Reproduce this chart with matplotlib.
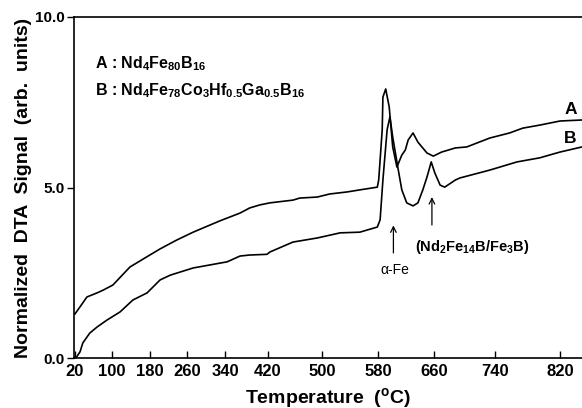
import numpy as np
import matplotlib
matplotlib.use("Agg")
import matplotlib.pyplot as plt

plt.rcParams['font.family'] = ['Liberation Sans', 'DejaVu Sans']
plt.rcParams['mathtext.fontset'] = 'custom'
plt.rcParams['mathtext.rm'] = 'Liberation Sans:bold'
plt.rcParams['mathtext.bf'] = 'Liberation Sans:bold'
plt.rcParams['mathtext.it'] = 'Liberation Sans:bold'
plt.rcParams['mathtext.default'] = 'bf'

# Tick temperatures and their (non-uniform) positions on the original axis
tick_T = [20, 100, 180, 260, 340, 420, 500, 580, 660, 740, 820]
tick_pos = [75, 112, 150, 187, 225, 268, 322, 378, 434, 495, 560]
y_ticks = [0.0, 5.0, 10.0]
y_ticklabels = ["0.0", "5.0", "10.0"]

# Curve A: Nd4Fe80B16
T_A = [20, 31, 46, 68, 81, 102, 138, 169, 202, 238, 273, 329, 368, 386, 405, 423,
       457, 467, 493, 511, 536, 554, 579, 581, 586, 587, 591, 596, 601, 607, 614,
       619, 623, 630, 637, 650, 659, 670, 688, 703, 733, 758, 774, 795, 820, 847]
S_A = [1.29, 1.50, 1.79, 1.91, 1.99, 2.14, 2.67, 2.93, 3.20, 3.46, 3.69, 4.02, 4.25,
       4.40, 4.49, 4.55, 4.63, 4.69, 4.72, 4.81, 4.87, 4.93, 5.01, 5.22, 6.69, 7.65,
       7.89, 7.36, 6.19, 5.60, 5.95, 6.10, 6.39, 6.60, 6.33, 6.01, 5.92, 6.04, 6.16,
       6.19, 6.45, 6.60, 6.74, 6.83, 6.95, 6.98]

# Curve B: Nd4Fe78Co3Hf0.5Ga0.5B16
T_B = [22, 31, 37, 52, 68, 89, 117, 144, 174, 202, 224, 273, 344, 368, 386, 418, 423,
       457, 493, 526, 554, 579, 583, 587, 593, 597, 601, 609, 614, 621, 630, 637, 644,
       650, 656, 661, 668, 674, 688, 694, 733, 767, 795, 820, 847]
S_B = [0.0, 0.18, 0.44, 0.73, 0.91, 1.11, 1.35, 1.70, 1.91, 2.29, 2.43, 2.64, 2.82,
       2.99, 3.02, 3.04, 3.11, 3.40, 3.52, 3.67, 3.69, 3.84, 4.05, 5.22, 6.69, 7.07,
       6.48, 5.51, 4.93, 4.55, 4.46, 4.55, 4.93, 5.31, 5.75, 5.43, 5.07, 5.01, 5.22,
       5.28, 5.51, 5.75, 5.87, 6.04, 6.19]

kT = np.array(tick_T + [900], dtype=float)
kP = np.array(tick_pos + [560 + 80 * 65 / 80], dtype=float)


def fwd(t):
    t = np.asarray(t, dtype=float)
    return (np.interp(t, kT, kP) + np.where(t < kT[0], (t - kT[0]) * (37 / 80), 0)
            + np.where(t > kT[-1], (t - kT[-1]) * (65 / 80), 0))


def inv(p):
    p = np.asarray(p, dtype=float)
    return (np.interp(p, kP, kT) + np.where(p < kP[0], (p - kP[0]) * (80 / 37), 0)
            + np.where(p > kP[-1], (p - kP[-1]) * (80 / 65), 0))


fig = plt.figure(figsize=(5.82, 4.08), dpi=100)
ax = fig.add_axes([74 / 582, 50 / 408, 1 - 74 / 582, 341 / 408])
ax.set_xscale('function', functions=(fwd, inv))

ax.plot(T_A, S_A, color='black', lw=1.2)
ax.plot(T_B, S_B, color='black', lw=1.2)

ax.set_xlim(18, 847)
ax.set_ylim(0, 10)
ax.set_xticks(tick_T)
ax.set_xticklabels([str(t) for t in tick_T], fontsize=12, fontweight='bold')
ax.set_yticks(y_ticks)
ax.set_yticklabels(y_ticklabels, fontsize=11, fontweight='bold')
ax.tick_params(axis='x', direction='in', length=5, width=1, pad=4)
ax.tick_params(axis='y', direction='out', length=5, width=1, pad=2)
ax.spines['right'].set_visible(False)
for s in ['left', 'top', 'bottom']:
    ax.spines[s].set_linewidth(1.2)

ax.set_xlabel('Temperature  ($^{o}$C)', fontsize=14, fontweight='bold', labelpad=5)
ax.set_ylabel('Normalized  DTA  Signal  (arb.  units)', fontsize=14, fontweight='bold', labelpad=2)

ax.text(0.042, 0.862, 'A : Nd$_{4}$Fe$_{80}$B$_{16}$', transform=ax.transAxes,
        fontsize=11.5, fontweight='bold', va='center', ha='left')
ax.text(0.042, 0.783, 'B : Nd$_{4}$Fe$_{78}$Co$_{3}$Hf$_{0.5}$Ga$_{0.5}$B$_{16}$',
        transform=ax.transAxes, fontsize=11.5, fontweight='bold', va='center', ha='left')
ax.text(833, 7.28, 'A', fontsize=12.5, fontweight='bold', ha='center', va='center')
ax.text(833, 6.45, 'B', fontsize=12.5, fontweight='bold', ha='center', va='center')

ax.annotate('', xy=(602, 3.97), xytext=(602, 3.0),
            arrowprops=dict(arrowstyle='->', lw=0.9, color='black'))
ax.text(604, 2.58, 'α-Fe', fontsize=10, ha='center', va='center')
ax.annotate('', xy=(657, 4.8), xytext=(657, 3.82),
            arrowprops=dict(arrowstyle='->', lw=0.9, color='black'))
ax.text(710, 3.26, '(Nd$_{2}$Fe$_{14}$B/Fe$_{3}$B)', fontsize=10.5, fontweight='bold',
        ha='center', va='center')

fig.savefig('out.png', dpi=100)
